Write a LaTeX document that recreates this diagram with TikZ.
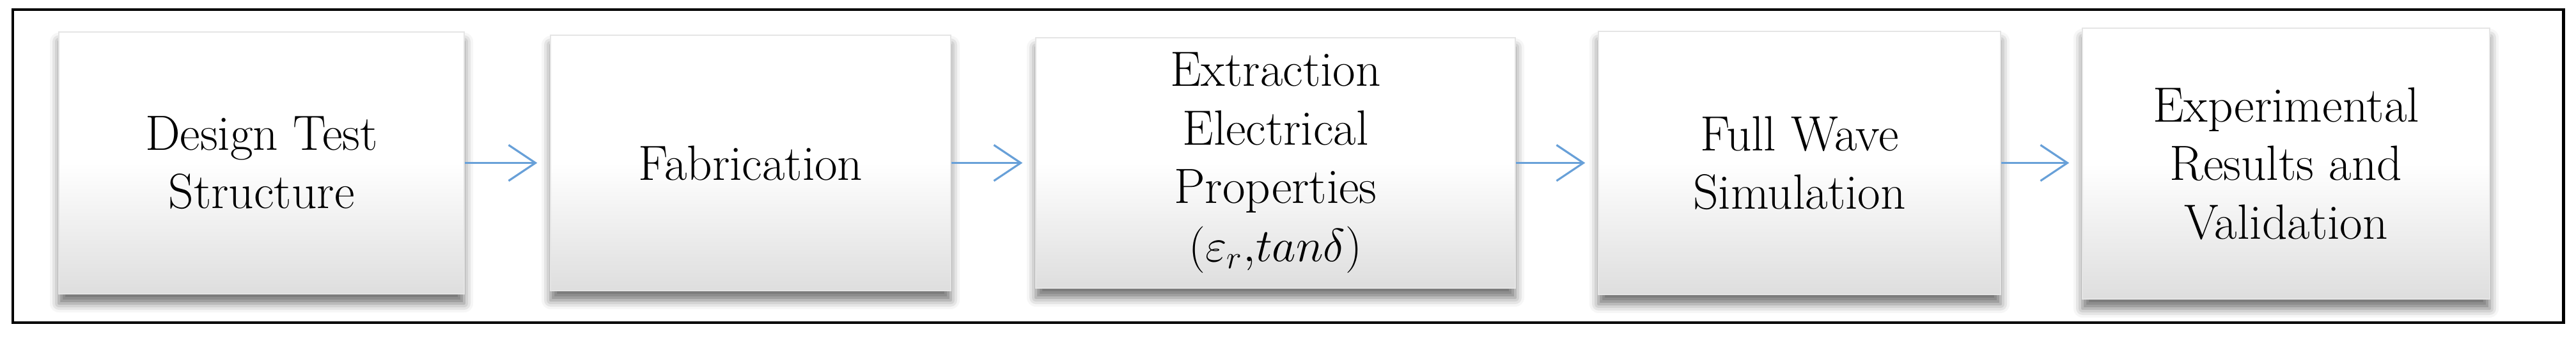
\documentclass[tikz,border=0pt]{standalone}
\usetikzlibrary{arrows.meta,shadows,shadows.blur}

\definecolor{arrowblue}{RGB}{104,160,216}

\tikzset{
  stagebox/.style={rectangle, align=center, inner sep=0pt,
    top color=white, bottom color=black!13, middle color=white,
    draw=black!10, line width=0.4pt,
    blur shadow={shadow xshift=0cm, shadow yshift=-0.15cm,
      shadow blur radius=0.14cm, shadow opacity=55},
    font=\fontsize{22}{26}\selectfont},
  flowarrow/.style={draw=arrowblue, line width=1pt,
    -{Straight Barb[length=0.42cm, width=0.56cm, line width=0.9pt]}}
}

\begin{document}
\begin{tikzpicture}
  \useasboundingbox (0,0) rectangle (40.29,5.27);

  % draw the outer frame
  \draw[line width=1.4pt] (0.20,0.23) rectangle (40.09,5.12);

  % the five stages, centred at fixed coordinates
  \node[stagebox, minimum width=6.34cm, minimum height=4.09cm] (des) at (4.09,2.725) {Design Test\\Structure};
  \node[stagebox, minimum width=6.26cm, minimum height=3.99cm] (fab) at (11.74,2.725) {Fabrication};
  \node[stagebox, minimum width=7.50cm, minimum height=3.91cm] (ext) at (19.95,2.725) {Extraction\\Electrical\\Properties\\$(\varepsilon_r{,}tan\delta)$};
  \node[stagebox, minimum width=6.29cm, minimum height=4.11cm] (sim) at (28.145,2.725) {Full Wave\\Simulation};
  \node[stagebox, minimum width=6.37cm, minimum height=4.23cm] (val) at (35.755,2.715) {Experimental\\Results and\\Validation};

  % arrows between the stages
  \draw[flowarrow] (des.east) -- ([xshift=-2mm]fab.west |- des.east);
  \draw[flowarrow] (fab.east) -- ([xshift=-2mm]ext.west |- fab.east);
  \draw[flowarrow] (ext.east) -- ([xshift=-2mm]sim.west |- ext.east);
  \draw[flowarrow] (sim.east) -- ([xshift=-2mm]val.west |- sim.east);
\end{tikzpicture}
\end{document}
